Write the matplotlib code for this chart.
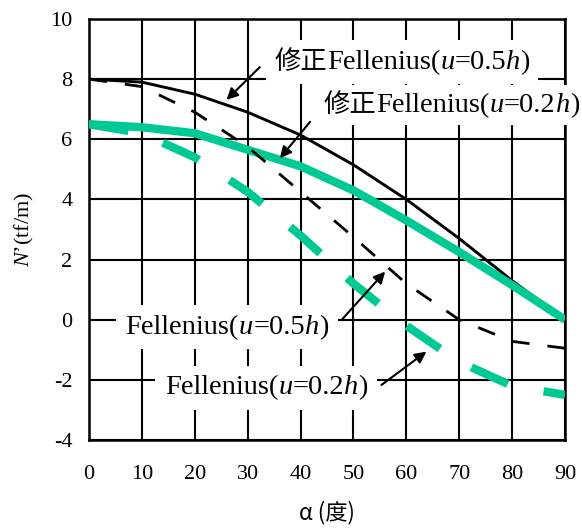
import matplotlib
matplotlib.use("Agg")
import matplotlib.pyplot as plt
from matplotlib.offsetbox import TextArea, HPacker, AnnotationBbox

plt.rcParams['mathtext.fontset'] = 'custom'
plt.rcParams['mathtext.it'] = 'Liberation Serif:italic'
plt.rcParams['mathtext.rm'] = 'Liberation Serif'
plt.rcParams['axes.unicode_minus'] = False

# data
alpha = [0, 10, 20, 30, 40, 50, 60, 70, 80, 90]
mod_05 = [8.0, 7.9, 7.5, 6.9, 6.14, 5.15, 4.0, 2.7, 1.3, 0.0]        # 修正Fellenius(u=0.5h)
mod_02 = [6.5, 6.4, 6.2, 5.65, 5.1, 4.3, 3.3, 2.25, 1.15, 0.0]       # 修正Fellenius(u=0.2h)
fel_05 = [8.0, 7.75, 6.9, 5.75, 4.25, 2.75, 1.2, 0.0, -0.72, -0.95]  # Fellenius(u=0.5h)
fel_02 = [6.5, 6.2, 5.4, 4.25, 2.8, 1.2, -0.2, -1.4, -2.2, -2.5]     # Fellenius(u=0.2h)

teal = '#00c994'
serif = 'Liberation Serif'
cjk = 'Noto Sans CJK SC'

fig = plt.figure(figsize=(5.82, 5.30), dpi=100)
ax = fig.add_axes([0.1529, 0.1698, 0.8179, 0.7944])

ax.plot(alpha, mod_05, color='black', lw=2.1, zorder=4)
ax.plot(alpha, mod_02, color=teal, lw=6, zorder=4, solid_capstyle='butt')
ax.plot(alpha, fel_05, color='black', lw=2.0, zorder=4, dashes=(6.5, 6.5), dash_capstyle='butt')
ax.plot(alpha, fel_02, color=teal, lw=6, zorder=4, dashes=(4.8, 4.4), dash_capstyle='butt')

ax.set_xlim(0, 90)
ax.set_ylim(-4, 10)
ax.set_xticks(range(0, 91, 10))
ax.set_yticks(range(-4, 11, 2))
ax.grid(True, color='black', lw=1.5)
ax.set_axisbelow(True)
for sp in ax.spines.values():
    sp.set_linewidth(1.8)
    sp.set_zorder(2)
ax.tick_params(length=0, labelsize=16)
ax.tick_params(axis='x', pad=18)
ax.tick_params(axis='y', pad=12)
for lb in ax.get_xticklabels() + ax.get_yticklabels():
    lb.set_family(serif)

ax.set_xlabel('α (度)', family=[cjk, serif], fontsize=16, labelpad=12)
ax.set_ylabel('$N$’(tf/m)', family=serif, fontsize=16, labelpad=10)


def label(prefix, val, xy, pad):
    fs = 20.5
    parts = []
    if prefix:
        parts.append(TextArea(prefix, textprops=dict(family=[cjk], fontsize=fs - 1.5)))
    parts.append(TextArea('Fellenius(', textprops=dict(family=serif, fontsize=fs)))
    parts.append(TextArea('u', textprops=dict(family=serif, style='italic', fontsize=fs)))
    parts.append(TextArea('=' + val, textprops=dict(family=serif, fontsize=fs)))
    parts.append(TextArea('h', textprops=dict(family=serif, style='italic', fontsize=fs)))
    parts.append(TextArea(')', textprops=dict(family=serif, fontsize=fs)))
    box = HPacker(children=parts, align='baseline', pad=0, sep=0)
    ab = AnnotationBbox(box, xy, xycoords='data', frameon=True, pad=pad,
                        bboxprops=dict(facecolor='white', edgecolor='none'),
                        annotation_clip=False, zorder=3)
    ax.add_artist(ab)


label('修正', '0.5', (59.2, 8.57), 0.6)
label('修正', '0.2', (68.5, 7.14), 0.5)
label('', '0.5', (26.1, -0.25), 0.7)
label('', '0.2', (33.5, -2.27), 0.7)

arrows = [((32.3, 8.40), (26.0, 7.31)),
          ((41.8, 6.58), (36.1, 5.37)),
          ((47.8, 0.0), (56.0, 1.60)),
          ((55.3, -2.17), (63.8, -1.06))]
for start, tip in arrows:
    ax.annotate('', xy=tip, xytext=start, zorder=5,
                arrowprops=dict(arrowstyle='-|>', color='black', lw=1.5,
                                mutation_scale=17, shrinkA=0, shrinkB=0))

fig.savefig('out.png', dpi=100)
